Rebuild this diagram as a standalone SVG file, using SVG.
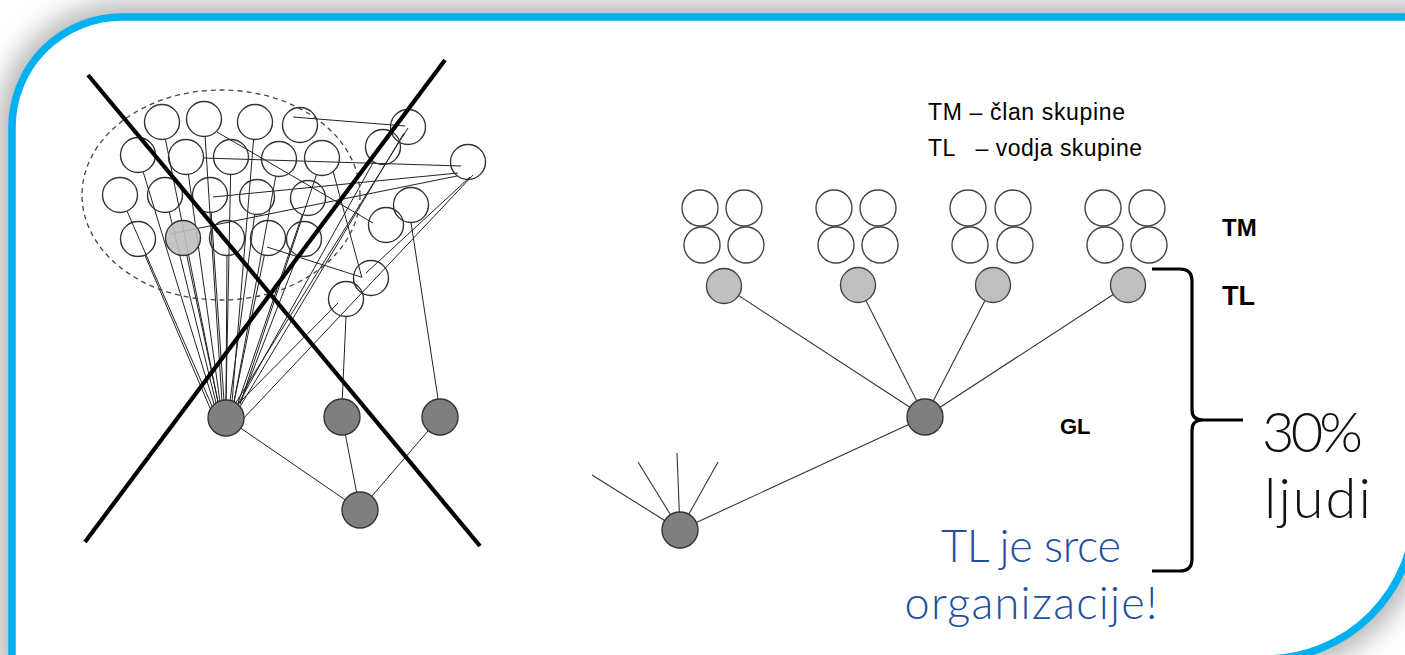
<svg xmlns="http://www.w3.org/2000/svg" width="1405" height="655" viewBox="0 0 1405 655">
  <defs>
    <filter id="soft-shadow" x="-10%" y="-10%" width="120%" height="120%">
      <feGaussianBlur stdDeviation="13"/>
    </filter>
    <style>
      .ring { fill: none; stroke: #333; stroke-width: 1.4; }
      .member { fill: #fff; stroke: #444; stroke-width: 1.4; }
      .leader { fill: #bfbfbf; stroke: #444; stroke-width: 1.4; }
      .boss { fill: #7f7f7f; stroke: #333; stroke-width: 1.4; }
      .wire { stroke: #222; stroke-width: 1; fill: none; }
      .tree { stroke: #333; stroke-width: 1.1; fill: none; }
      .cross { stroke: #000; stroke-width: 4.2; }
      .legend { font-family: "Liberation Sans", Arial, sans-serif; font-size: 23px; fill: #000; }
      .tag { font-family: "Liberation Sans", Arial, sans-serif; font-weight: bold; fill: #000; }
      .big { font-family: Lato, "Liberation Sans", sans-serif; font-weight: 300; fill: #111; }
      .note { font-family: Lato, "Liberation Sans", sans-serif; font-weight: 300; fill: #1f4e9f; text-anchor: middle; }
    </style>
  </defs>

  <!-- page background and framed panel -->
  <rect x="0" y="0" width="1405" height="655" fill="#fff"/>
  <path d="M12,127 A110,110 0 0 1 122,17 L1415,17 L1415,509 A150,150 0 0 1 1265,659 L12,659 Z"
        fill="#b8b8b8" stroke="#b8b8b8" stroke-width="30" filter="url(#soft-shadow)"/>
  <path id="panel" d="M12,127 A110,110 0 0 1 122,17 L1415,17 L1415,509 A150,150 0 0 1 1265,659 L12,659 Z"
        fill="#fff" stroke="#00b0f0" stroke-width="7.5"/>

  <!-- connectors -->
  <g id="connectors">
    <!-- tangled network: fan into the overloaded manager -->
    <g class="wire">
      <line x1="165.4" y1="139.2" x2="218" y2="402"/>
      <line x1="205.1" y1="136.5" x2="222" y2="402"/>
      <line x1="253.6" y1="139.4" x2="232" y2="402"/>
      <line x1="143.1" y1="171.7" x2="214" y2="404"/>
      <line x1="188.4" y1="174.3" x2="220" y2="402"/>
      <line x1="230.6" y1="174.5" x2="226" y2="401"/>
      <line x1="275.8" y1="176.2" x2="234" y2="402"/>
      <line x1="316.5" y1="174.6" x2="240" y2="404"/>
      <line x1="127" y1="211" x2="212" y2="406"/>
      <line x1="169.2" y1="212" x2="216" y2="403"/>
      <line x1="211.2" y1="212.5" x2="224" y2="401"/>
      <line x1="254.7" y1="214.3" x2="230" y2="401"/>
      <line x1="302.3" y1="214.6" x2="238" y2="403"/>
      <line x1="144.9" y1="255.1" x2="210" y2="408"/>
      <line x1="186.7" y1="255.1" x2="218" y2="402"/>
      <line x1="227" y1="255.5" x2="226" y2="401"/>
      <line x1="264.4" y1="255.1" x2="234" y2="402"/>
      <line x1="297.7" y1="255.3" x2="240" y2="404"/>
      <!-- links to the outer circles -->
      <line x1="408" y1="128" x2="230" y2="412"/>
      <line x1="404" y1="133" x2="238" y2="410"/>
      <line x1="374" y1="161" x2="236" y2="408"/>
      <line x1="473" y1="175" x2="242" y2="420"/>
      <line x1="470" y1="177" x2="366" y2="273"/>
      <line x1="230" y1="412" x2="338" y2="303"/>
      <line x1="293" y1="117" x2="405" y2="126"/>
      <line x1="203" y1="158" x2="461" y2="166"/>
      <line x1="213" y1="197" x2="458" y2="173"/>
      <line x1="170" y1="234" x2="457" y2="176"/>
      <line x1="217" y1="132" x2="373" y2="223"/>
      <line x1="267" y1="247" x2="361" y2="277"/>
      <line x1="333" y1="171" x2="362" y2="278"/>
      <line x1="346" y1="316.5" x2="342" y2="405"/>
      <line x1="411" y1="222.5" x2="439" y2="405"/>
      <!-- managers to the top -->
      <line x1="240.8" y1="428.2" x2="345.1" y2="499.8"/>
      <line x1="345.4" y1="434.7" x2="356.6" y2="492.3"/>
      <line x1="428.3" y1="430.6" x2="371.7" y2="496.4"/>
    </g>
    <!-- orderly tree -->
    <g class="tree">
      <line x1="738.7" y1="295.6" x2="909.9" y2="407.2"/>
      <line x1="865.9" y1="300.6" x2="916.8" y2="400.9"/>
      <line x1="985" y1="300.6" x2="933.2" y2="401"/>
      <line x1="1113.3" y1="294.5" x2="940.1" y2="407.2"/>
      <line x1="908.7" y1="424.5" x2="696.3" y2="522.5"/>
      <line x1="664.7" y1="520.5" x2="592" y2="475"/>
      <line x1="670.5" y1="514.7" x2="638" y2="462"/>
      <line x1="679.3" y1="512" x2="677" y2="453"/>
      <line x1="688.8" y1="514.3" x2="718" y2="462"/>
    </g>
    <!-- curly brace grouping TL and GL -->
    <path d="M1152,269 L1180,269 Q1192,269 1192,281 L1192,410 Q1192,420 1203,420 Q1192,420 1192,430 L1192,559 Q1192,571 1180,571 L1152,571 M1203,420 L1243,420"
          fill="none" stroke="#000" stroke-width="3.2"/>
  </g>

  <!-- tangled network -->
  <ellipse id="team-boundary" cx="221" cy="195" rx="139" ry="105" fill="none" stroke="#444" stroke-width="1.3" stroke-dasharray="5,4"/>
  <g id="net-members">
    <circle class="ring" cx="162" cy="122" r="17.5"/>
    <circle class="ring" cx="204" cy="119" r="17.5"/>
    <circle class="ring" cx="255" cy="122" r="17.5"/>
    <circle class="ring" cx="300" cy="125" r="17.5"/>
    <circle class="ring" cx="138" cy="155" r="17.5"/>
    <circle class="ring" cx="186" cy="157" r="17.5"/>
    <circle class="ring" cx="231" cy="157" r="17.5"/>
    <circle class="ring" cx="279" cy="159" r="17.5"/>
    <circle class="ring" cx="322" cy="158" r="17.5"/>
    <circle class="ring" cx="120" cy="195" r="17.5"/>
    <circle class="ring" cx="165" cy="195" r="17.5"/>
    <circle class="ring" cx="210" cy="195" r="17.5"/>
    <circle class="ring" cx="257" cy="197" r="17.5"/>
    <circle class="ring" cx="308" cy="198" r="17.5"/>
    <circle class="ring" cx="138" cy="239" r="17.5"/>
    <circle cx="183" cy="238" r="17.5" fill="#bfbfbf" fill-opacity="0.9" stroke="#333" stroke-width="1.4"/>
    <circle class="ring" cx="227" cy="238" r="17.5"/>
    <circle class="ring" cx="268" cy="238" r="17.5"/>
    <circle class="ring" cx="304" cy="239" r="17.5"/>
    <circle class="ring" cx="408" cy="127" r="17.5"/>
    <circle class="ring" cx="383" cy="147" r="17.5"/>
    <circle class="ring" cx="468" cy="162" r="17.5"/>
    <circle class="ring" cx="411" cy="205" r="17.5"/>
    <circle class="ring" cx="386" cy="225" r="17.5"/>
    <circle class="ring" cx="371" cy="278" r="17.5"/>
    <circle class="ring" cx="346" cy="299" r="17.5"/>
  </g>
  <g id="net-manager-1"><circle class="boss" cx="226" cy="418" r="18"/></g>
  <g id="net-manager-2"><circle class="boss" cx="342" cy="417" r="18"/></g>
  <g id="net-manager-3"><circle class="boss" cx="440" cy="417" r="18"/></g>
  <g id="net-director"><circle class="boss" cx="360" cy="510" r="18"/></g>
  <g id="strike-out">
    <line class="cross" x1="88" y1="75" x2="480" y2="546"/>
    <line class="cross" x1="445" y1="60" x2="85" y2="542"/>
  </g>

  <!-- orderly tree: four teams -->
  <g id="team-1">
    <circle class="member" cx="700" cy="208" r="18"/>
    <circle class="member" cx="744" cy="208" r="18"/>
    <circle class="member" cx="702" cy="245" r="18"/>
    <circle class="member" cx="746" cy="245" r="18"/>
    <circle class="leader" cx="724" cy="286" r="17.5"/>
  </g>
  <g id="team-2">
    <circle class="member" cx="834" cy="208" r="18"/>
    <circle class="member" cx="878" cy="208" r="18"/>
    <circle class="member" cx="836" cy="245" r="18"/>
    <circle class="member" cx="880" cy="245" r="18"/>
    <circle class="leader" cx="858" cy="285" r="17.5"/>
  </g>
  <g id="team-3">
    <circle class="member" cx="968" cy="208" r="18"/>
    <circle class="member" cx="1013" cy="208" r="18"/>
    <circle class="member" cx="970" cy="245" r="18"/>
    <circle class="member" cx="1015" cy="245" r="18"/>
    <circle class="leader" cx="993" cy="285" r="17.5"/>
  </g>
  <g id="team-4">
    <circle class="member" cx="1103" cy="208" r="18"/>
    <circle class="member" cx="1147" cy="208" r="18"/>
    <circle class="member" cx="1105" cy="245" r="18"/>
    <circle class="member" cx="1149" cy="245" r="18"/>
    <circle class="leader" cx="1128" cy="285" r="17.5"/>
  </g>
  <g id="group-leader"><circle class="boss" cx="925" cy="417" r="18"/></g>
  <g id="upper-node"><circle class="boss" cx="680" cy="530" r="18"/></g>

  <!-- labels -->
  <g id="legend">
    <text class="legend" x="928" y="120" textLength="197" lengthAdjust="spacing">TM – član skupine</text>
    <text class="legend" x="928" y="156" xml:space="preserve" textLength="214" lengthAdjust="spacing">TL   – vodja skupine</text>
  </g>
  <text class="tag" x="1222" y="236" font-size="24">TM</text>
  <text class="tag" x="1222" y="305" font-size="27">TL</text>
  <text class="tag" x="1060" y="434" font-size="22">GL</text>
  <g id="share">
    <text class="big" x="1262" y="452" font-size="56" textLength="101" lengthAdjust="spacing">30%</text>
    <text class="big" x="1264" y="518" font-size="56" letter-spacing="2">ljudi</text>
  </g>
  <g id="message">
    <text class="note" x="1031" y="562" font-size="45" textLength="180" lengthAdjust="spacing">TL je srce</text>
    <text class="note" x="1031" y="619" font-size="45" textLength="253" lengthAdjust="spacing">organizacije!</text>
  </g>
</svg>
